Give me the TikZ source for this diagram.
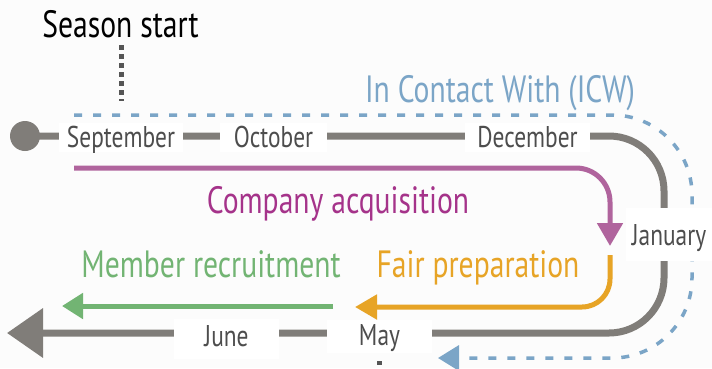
\documentclass[tikz,border=0pt]{standalone}
\usepackage{fontspec}
\setmainfont{PT Sans}[FakeStretch=0.78]
\usetikzlibrary{arrows.meta}
\definecolor{bg}{HTML}{FCFCFC}
\definecolor{tl}{HTML}{807D79}
\definecolor{dk}{HTML}{555555}
\definecolor{mtext}{HTML}{4D4D4D}
\definecolor{mag}{HTML}{B0649D}
\definecolor{magt}{HTML}{A5338A}
\definecolor{org}{HTML}{E7A426}
\definecolor{grn}{HTML}{72B473}
\definecolor{blu}{HTML}{7BA5C7}
\tikzset{
  monthbox/.style={fill=white, inner sep=0pt, anchor=base, text=mtext,
    font=\fontsize{30}{32}\selectfont},
  titletext/.style={inner sep=0pt, anchor=base, font=\fontsize{38}{40}\selectfont},
  timeline/.style={draw=tl, line width=7pt, rounded corners=55pt},
  phase/.style={line width=5pt},
}
\begin{document}
\begin{tikzpicture}[x=1pt,y=-1pt]
\fill[bg] (0,0) rectangle (712,368);
\useasboundingbox (0,0) rectangle (712,368);

% blue dashed ICW line
\coordinate (b0) at (74,115);
\coordinate (b1) at (692,115);
\coordinate (b2) at (692,358);
\coordinate (b3) at (438,358);
\draw[blu, line width=3.5pt, dash pattern=on 8pt off 11pt, rounded corners=80pt,
  -{Triangle[length=21pt,width=25pt]}] (b0) -- (b1) -- (b2) -- (b3);

% season start dotted line
\coordinate (s0) at (121,45);
\coordinate (s1) at (121,101);
\draw[dk, line width=5pt, dash pattern=on 5pt off 4pt] (s0) -- (s1);
\node[titletext] (season) at (120.5,37) {Season start};

% gray timeline
\node[circle, fill=tl, minimum size=30pt, inner sep=0pt] (start) at (25,136) {};
\coordinate (g1) at (664,136);
\coordinate (g2) at (664,333);
\coordinate (gEnd) at (7,333);
\draw[timeline, -{Triangle[length=36pt,width=48pt]}] (start.center) -- (g1) -- (g2) -- (gEnd);

% magenta
\coordinate (m0) at (74,168);
\coordinate (m1) at (610,168);
\coordinate (m2) at (610,246);
\draw[mag, phase, rounded corners=34pt, -{Triangle[length=23pt,width=25pt]}] (m0) -- (m1) -- (m2);

% orange
\coordinate (o0) at (610,255);
\coordinate (o1) at (610,307);
\coordinate (o2) at (355,307);
\draw[org, phase, rounded corners=28pt, -{Triangle[length=22pt,width=24pt]}] (o0) -- (o1) -- (o2);

% green
\coordinate (gr0) at (333,306);
\coordinate (gr1) at (62,306);
\draw[grn, phase, -{Triangle[length=21pt,width=25pt]}] (gr0) -- (gr1);

% month labels
\node[monthbox, minimum width=124pt, text height=24pt, text depth=5pt] (sep) at (121,147) {September};
\node[monthbox, minimum width=107pt, text height=24pt, text depth=5pt] (oct) at (273.5,147) {October};
\node[monthbox, minimum width=125pt, text height=24pt, text depth=5pt] (dec) at (527.5,147) {December};
\node[monthbox, minimum width=86pt, text height=37pt, text depth=16pt] (jan) at (669,245) {January};
\node[monthbox, minimum width=105pt, text height=27pt, text depth=13pt] (jun) at (226.5,346) {June};
\node[monthbox, minimum width=105pt, text height=25pt, text depth=8pt] (may) at (379.5,345) {May};

% small mark below May
\fill[dk] (377,361) rectangle (382,365);

% titles
\node[titletext, text=blu] (icw) at (500,102) {In Contact With (ICW)};
\node[titletext, text=magt] (comp) at (338,213) {Company acquisition};
\node[titletext, text=grn] (memb) at (211,277) {Member recruitment};
\node[titletext, text=org] (fair) at (478,277) {Fair preparation};
\end{tikzpicture}
\end{document}
